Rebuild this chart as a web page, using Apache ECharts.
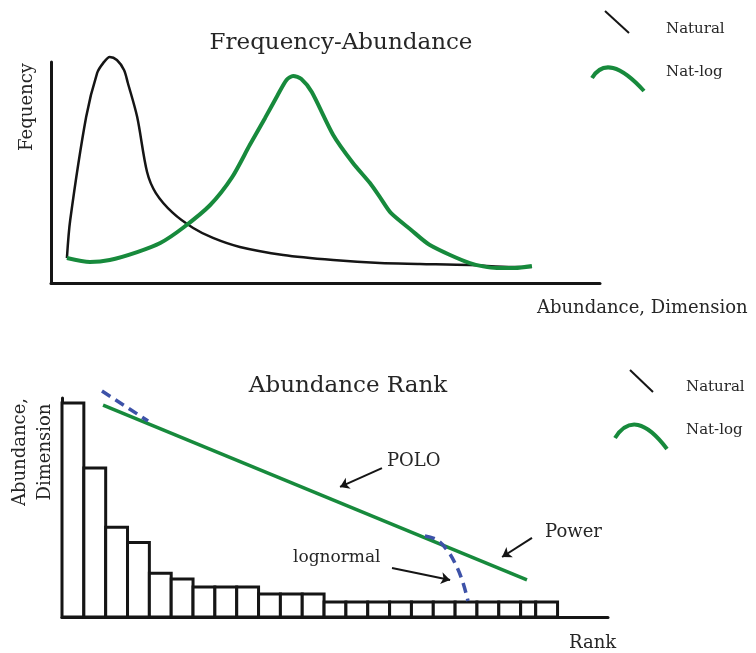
<!DOCTYPE html>
<html>
<head>
<meta charset="utf-8">
<script src="https://cdn.jsdelivr.net/npm/echarts@6/dist/echarts.min.js"></script>
<style>html,body{margin:0;padding:0;background:#fff}#c{width:756px;height:653px}</style>
</head>
<body>
<div id="c"></div>
<script>
// ---- Top panel: Frequency-Abundance curves (x: abundance 0-100, y: frequency 0-100)
const naturalCurve = [
  [2.9, 11.3], [3.5, 28.5], [6.4, 75.1], [8.4, 95.0], [9.5, 99.5], [10.7, 102.3],
  [12.0, 100.9], [13.3, 96.4], [14.0, 90.5], [15.7, 75.1], [17.5, 50.2], [19.1, 40.7],
  [22.2, 31.7], [25.9, 24.9], [29.5, 20.4], [34.4, 16.3], [42.3, 12.7], [51.4, 10.4],
  [59.9, 9.0], [67.2, 8.6], [76.3, 8.1], [84.2, 7.2], [87.6, 7.2]
];
const natLogCurve = [
  [2.9, 11.3], [7.1, 9.5], [10.7, 10.4], [15.7, 14.0], [19.9, 18.1], [24.0, 24.9],
  [29.0, 35.3], [33.0, 47.9], [36.2, 62.4], [39.0, 74.7], [41.3, 85.1], [42.9, 91.9],
  [44.1, 93.7], [45.6, 92.3], [47.5, 86.4], [51.4, 67.0], [55.0, 54.3], [58.1, 45.2],
  [60.0, 38.5], [61.9, 31.7], [65.6, 24.0], [69.0, 17.2], [76.3, 9.0], [81.2, 6.8], [84.5, 6.8], [87.6, 7.7]
];

// ---- Bottom panel: Abundance rank histogram (rank units, abundance 0-100)
const rankBarWidths = [1,1,1,1,1,1,1,1,1,1,1,1,1,1,1,1,1,1,1,1,1,0.69,1];
const rankBarHeights = [97.7,68,41,34,20,17.4,13.7,13.7,13.7,10.5,10.5,10.5,
  6.8,6.8,6.8,6.8,6.8,6.8,6.8,6.8,6.8,6.8,6.8];
const powerLine = [[1.88, 96.8], [21.29, 16.9]];
const lognormalUpper = [[1.83, 103.2], [3.94, 89.5]];
const lognormalLower = [[16.62, 37.0], [17.17, 35.2], [17.63, 30.6], [17.99, 24.7], [18.32, 16.9], [18.59, 7.3]];
const arrowPOLO = [[14.65, 68.0], [12.73, 59.4]];
const arrowPower = [[21.52, 36.1], [20.15, 27.4]];
const arrowLognormal = [[15.11, 22.4], [17.77, 16.9]];

// bar table built from widths/heights
const rankBars = [];
let acc = 0;
rankBarWidths.forEach((w, i) => { rankBars.push([acc, acc + w, rankBarHeights[i]]); acc += w; });

const GREEN = '#178a3c', BLUE = '#3d52a8', INK = '#151515', TXT = '#262626';
const FONT = '"DejaVu Serif", serif';

const axisCommon = {
  type: 'value', axisTick: {show: false}, axisLabel: {show: false}, splitLine: {show: false},
  axisLine: {show: true, onZero: false, lineStyle: {color: INK, width: 3}}
};

const chart = echarts.init(document.getElementById('c'), null, {renderer: 'canvas'});

function txt(x, y, s, size, align, rot) {
  const el = {type: 'text', x: x, y: y, silent: true,
    style: {text: s, fill: TXT, font: size + 'px ' + FONT, textAlign: align || 'left', textVerticalAlign: 'middle'}};
  if (rot) el.rotation = rot;
  return el;
}
function legendSet(lx1, ly1, lx2, ly2, ax1, ay1, acx, acy, ax2, ay2, tx, ty1, ty2) {
  return [
    {type: 'line', silent: true, shape: {x1: lx1, y1: ly1, x2: lx2, y2: ly2}, style: {stroke: INK, lineWidth: 2}},
    {type: 'bezierCurve', silent: true, shape: {x1: ax1, y1: ay1, cpx1: acx, cpy1: acy, x2: ax2, y2: ay2},
      style: {stroke: GREEN, lineWidth: 4, fill: null}},
    txt(tx, ty1, 'Natural', 15),
    txt(tx, ty2, 'Nat-log', 15)
  ];
}

chart.setOption({
  animation: false,
  backgroundColor: '#fff',
  grid: [
    {left: 51, top: 62, width: 549, height: 221},
    {left: 62, top: 398, width: 546, height: 219}
  ],
  xAxis: [
    Object.assign({}, axisCommon, {gridIndex: 0, min: 0, max: 100}),
    Object.assign({}, axisCommon, {gridIndex: 1, min: 0, max: 25})
  ],
  yAxis: [
    Object.assign({}, axisCommon, {gridIndex: 0, min: 0, max: 100}),
    Object.assign({}, axisCommon, {gridIndex: 1, min: 0, max: 100})
  ],
  series: [
    {type: 'line', xAxisIndex: 0, yAxisIndex: 0, data: naturalCurve, smooth: 0.3, clip: false,
      showSymbol: false, lineStyle: {color: INK, width: 2.5}, z: 3},
    {type: 'line', xAxisIndex: 0, yAxisIndex: 0, data: natLogCurve, smooth: 0.25, clip: false,
      showSymbol: false, lineStyle: {color: GREEN, width: 4}, z: 4},
    {type: 'custom', xAxisIndex: 1, yAxisIndex: 1, data: rankBars, z: 2,
      renderItem: function (params, api) {
        const p0 = api.coord([api.value(0), 0]);
        const p1 = api.coord([api.value(1), api.value(2)]);
        return {type: 'rect', shape: {x: p0[0], y: p1[1], width: p1[0] - p0[0], height: p0[1] - p1[1]},
          style: {fill: '#fff', stroke: INK, lineWidth: 3}};
      }},
    {type: 'line', xAxisIndex: 1, yAxisIndex: 1, data: powerLine, clip: false, showSymbol: false,
      lineStyle: {color: GREEN, width: 3.5}, z: 4},
    {type: 'line', xAxisIndex: 1, yAxisIndex: 1, data: lognormalUpper, clip: false, showSymbol: false,
      lineStyle: {color: BLUE, width: 3.5, type: [10, 6]}, z: 5},
    {type: 'line', xAxisIndex: 1, yAxisIndex: 1, data: lognormalLower, smooth: 0.4, clip: false, showSymbol: false,
      lineStyle: {color: BLUE, width: 3.5, type: [10, 6]}, z: 5},
    {type: 'lines', coordinateSystem: 'cartesian2d', xAxisIndex: 1, yAxisIndex: 1, z: 6,
      symbol: ['none', 'arrow'], symbolSize: 9,
      lineStyle: {color: INK, width: 2, opacity: 1},
      data: [{coords: arrowPOLO}, {coords: arrowPower}, {coords: arrowLognormal}]}
  ],
  graphic: [].concat(
    [
      txt(341, 43, 'Frequency-Abundance', 23, 'center'),
      txt(27, 107, 'Fequency', 18, 'center', Math.PI / 2),
      txt(537, 308, 'Abundance, Dimension', 18),
      txt(348, 386, 'Abundance Rank', 23, 'center'),
      txt(20, 452, 'Abundance,', 18, 'center', Math.PI / 2),
      txt(45, 452, 'Dimension', 18, 'center', Math.PI / 2),
      txt(569, 643, 'Rank', 18),
      txt(387, 461, 'POLO', 18),
      txt(545, 532, 'Power', 18),
      txt(293, 558, 'lognormal', 17)
    ],
    legendSet(605, 11, 629, 33, 592, 78, 608, 51.5, 644, 91, 666, 29, 72),
    legendSet(630, 370, 653, 392, 615, 438, 635, 406.5, 667, 449, 686, 387, 430)
  )
});
</script>
</body>
</html>
